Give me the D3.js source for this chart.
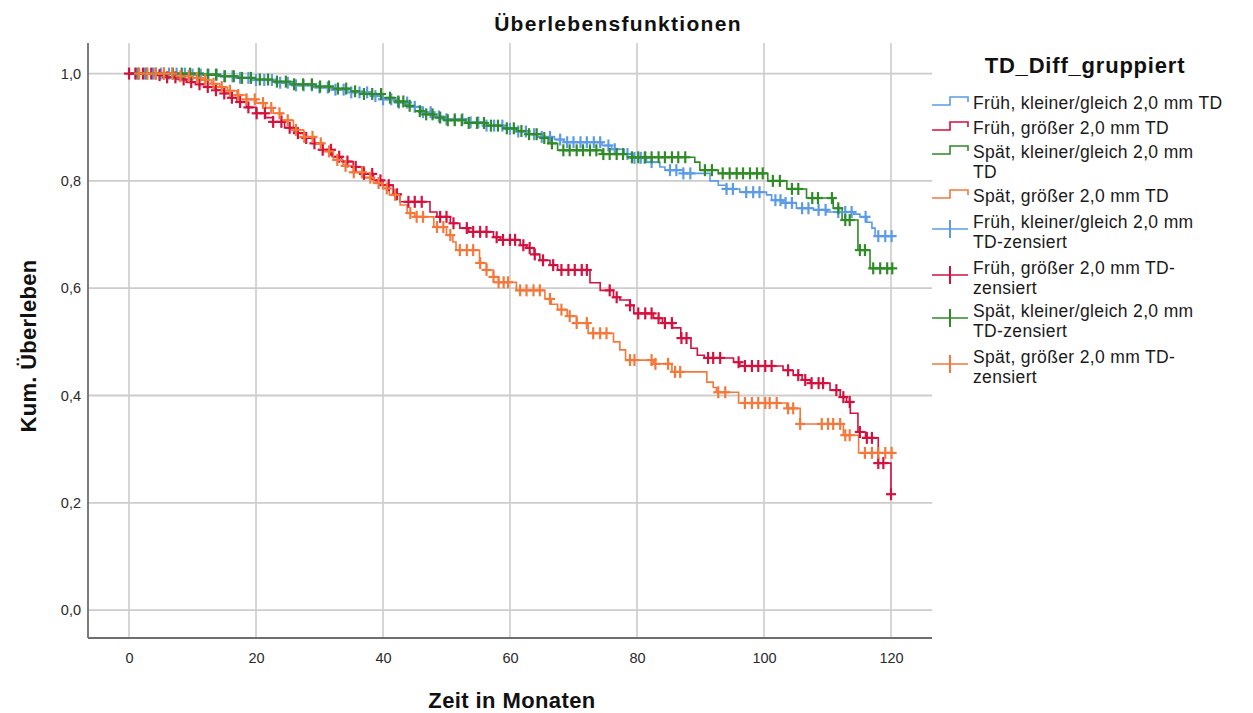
<!DOCTYPE html>
<html><head><meta charset="utf-8">
<script src="https://cdn.jsdelivr.net/npm/d3@7"></script>
<style>
html,body{margin:0;padding:0;background:#fff;}
svg{display:block;font-family:"Liberation Sans",Arial,sans-serif;}
</style></head>
<body>
<svg id="chart" width="1253" height="713"></svg>
<script>
// ---------------- DATA ----------------
const chartTitle = "Überlebensfunktionen";
const xTitle = "Zeit in Monaten";
const yTitle = "Kum. Überleben";
const legendTitle = "TD_Diff_gruppiert";
const xTicks = [0, 20, 40, 60, 80, 100, 120];
const yTicks = [0, 0.2, 0.4, 0.6, 0.8, 1.0];
const seriesNames = ["Früh, kleiner/gleich 2,0 mm TD", "Früh, größer 2,0 mm TD",
  "Spät, kleiner/gleich 2,0 mm TD", "Spät, größer 2,0 mm TD"];
const censorNames = ["Früh, kleiner/gleich 2,0 mm TD-zensiert", "Früh, größer 2,0 mm TD-zensiert",
  "Spät, kleiner/gleich 2,0 mm TD-zensiert", "Spät, größer 2,0 mm TD-zensiert"];
const colors = ["#5b9be6", "#d4103e", "#2e8b25", "#f5783a"];

// step curves: [time, survival] after each drop
const fruehKlein = [[0,1],[10,0.998],[14,0.995],[17,0.992],[20,0.988],[23,0.983],[26,0.978],[29,0.974],[32,0.970],[35,0.965],[38,0.958],[40,0.952],[42,0.946],[44,0.938],[46,0.928],[48,0.920],[50,0.915],[53,0.909],[56,0.903],[59,0.897],[61,0.892],[63,0.887],[65,0.882],[67,0.877],[68.5,0.872],[74.5,0.866],[76,0.859],[78,0.850],[79.5,0.843],[81.5,0.835],[83.6,0.826],[84.4,0.820],[87.3,0.814],[91.5,0.800],[92.8,0.792],[94.1,0.785],[96.2,0.779],[100.4,0.774],[101.2,0.764],[103,0.759],[105.1,0.749],[107.8,0.746],[109.9,0.742],[114.1,0.738],[115.1,0.733],[116.2,0.723],[117,0.712],[117.5,0.697],[120.2,0.697]];
const fruehGross = [[0,1],[4.5,0.997],[6,0.993],[7.5,0.989],[9,0.984],[10.5,0.980],[12,0.975],[13.5,0.969],[15,0.963],[16,0.955],[17,0.947],[18.5,0.937],[20,0.926],[21.5,0.918],[22.7,0.910],[24.5,0.899],[26,0.889],[27.5,0.880],[29,0.870],[30.5,0.858],[32,0.845],[33.5,0.836],[35.3,0.826],[37,0.813],[38.5,0.801],[40,0.792],[41.6,0.775],[42.7,0.761],[47.4,0.742],[48.5,0.733],[50.6,0.721],[52.1,0.712],[53.5,0.705],[57.4,0.695],[58.5,0.690],[61.6,0.680],[62.6,0.675],[63.8,0.663],[64.7,0.652],[66.3,0.643],[67.5,0.634],[72.6,0.610],[74.2,0.596],[76.3,0.583],[77.3,0.578],[78.9,0.568],[79.5,0.553],[82.6,0.544],[84,0.535],[85.6,0.526],[86.9,0.507],[88.5,0.488],[89.5,0.475],[90.6,0.470],[95.2,0.462],[96.2,0.455],[103,0.447],[104.6,0.438],[106,0.429],[107.3,0.423],[110.4,0.410],[112,0.397],[113,0.388],[113.6,0.367],[114.8,0.332],[116,0.321],[118,0.274],[120,0.216],[120.1,0.216]];
const spaetKlein = [[0,1],[11.7,0.998],[14,0.995],[17,0.992],[20,0.989],[23,0.985],[26,0.980],[29,0.976],[32,0.972],[35,0.967],[37,0.962],[40,0.955],[42,0.948],[43.5,0.940],[45,0.930],[46.5,0.924],[48,0.918],[50,0.913],[53,0.908],[56,0.903],[59,0.898],[61,0.893],[63,0.887],[65,0.880],[66,0.870],[67.5,0.857],[74.5,0.850],[78.5,0.844],[89.1,0.835],[89.9,0.820],[92.8,0.814],[100.6,0.800],[103.6,0.785],[106.7,0.768],[110.9,0.749],[112.3,0.727],[114.8,0.671],[116.7,0.637],[120.2,0.637]];
const spaetGross = [[0,1],[8,0.995],[10,0.992],[11.7,0.988],[13,0.981],[14.3,0.975],[15.5,0.968],[17,0.960],[18.5,0.952],[20,0.945],[21.5,0.936],[22.7,0.926],[24,0.913],[25.9,0.895],[27.5,0.882],[29,0.870],[30.5,0.855],[32.2,0.839],[33.7,0.828],[35.3,0.816],[37,0.806],[38.5,0.796],[40,0.786],[41,0.774],[42.7,0.755],[43.8,0.740],[45,0.733],[48,0.714],[50,0.699],[51,0.686],[51.5,0.671],[55.2,0.647],[56.3,0.634],[57.4,0.621],[58.2,0.611],[61,0.596],[65.5,0.580],[66.5,0.570],[67.5,0.560],[69,0.548],[70.5,0.535],[72.3,0.516],[76.3,0.500],[77.3,0.485],[78.2,0.466],[82.6,0.459],[85.5,0.444],[91,0.425],[92,0.415],[92.5,0.406],[96,0.386],[103.6,0.376],[105.7,0.347],[112.5,0.326],[114.9,0.293],[120.4,0.293]];

// censored observation times
const fruehKleinCens = [1.2,2.5,3.8,5.0,6.3,7.5,8.8,10.0,11.3,12.5,13.8,15.0,16.3,17.5,18.8,20.0,21.3,22.5,23.8,25.0,26.3,27.5,28.8,30.0,31.3,32.5,33.8,35.0,36.3,37.5,38.8,40.0,41.3,42.5,43.8,45.0,46.3,47.5,48.8,50.0,51.3,52.5,53.8,55.0,56.3,57.5,58.8,60.0,61.3,62.5,63.8,65.0,66.3,67.9,69.0,70.0,71.1,72.1,73.2,74.2,75.5,76.5,78.5,79.6,80.6,81.2,82.3,85.2,86.2,87.3,88.4,94.1,95.1,97.2,98.3,99.3,101.8,102.6,103.4,104.4,106.0,107.0,108.6,109.7,111.7,112.8,113.8,116.0,118.0,119.1,120.1];
const fruehGrossCens = [0,1.0,2.2,3.5,4.8,6.0,7.3,8.6,9.8,11.1,12.4,13.7,15.0,16.2,17.5,18.8,20.1,21.4,22.7,24.0,25.3,26.6,27.9,29.2,30.5,31.8,33.1,34.4,35.7,37.0,38.3,39.6,40.9,42.2,44.0,45.0,46.1,49.0,50.0,51.1,53.2,54.2,55.3,56.3,57.9,58.9,60.0,60.8,62.1,63.1,63.9,65.2,66.8,68.1,69.2,70.2,71.3,72.1,75.7,76.8,78.9,80.2,81.3,82.3,83.4,84.4,85.5,87.0,87.8,91.2,92.0,93.1,96.0,97.0,98.1,99.1,100.2,101.2,103.8,105.4,106.5,107.5,108.6,109.3,111.4,112.5,113.5,115.1,116.2,117.0,118.0,118.8,120.0];
const spaetKleinCens = [1.5,2.8,4.2,5.5,6.9,8.3,9.6,11.0,12.4,13.7,15.1,16.5,17.8,19.2,20.6,21.9,23.3,24.7,26.0,27.4,28.8,30.1,31.5,32.9,34.2,35.6,37.0,38.3,39.7,41.1,42.4,43.2,44.2,45.8,46.8,47.8,49.0,50.2,51.3,52.4,53.5,54.8,55.9,57.0,58.1,59.5,60.6,61.8,63.0,64.2,65.4,66.6,68.4,69.4,70.5,71.5,72.6,73.6,74.7,75.7,76.8,77.8,79.2,80.2,81.3,82.3,83.4,84.4,85.5,86.5,87.6,90.7,91.8,93.5,94.6,95.7,96.7,97.8,98.9,99.8,101.4,102.5,104.4,105.4,107.6,108.5,110.7,111.7,112.8,113.5,115.1,115.9,117.2,118.3,119.4,120.2];
const spaetGrossCens = [1.6,2.9,4.2,5.5,6.8,8.1,9.4,10.7,12.0,13.3,14.6,15.9,17.2,18.5,19.8,21.1,22.4,23.7,25.0,26.3,27.6,28.9,30.2,31.5,32.8,34.1,35.4,36.7,38.0,39.3,40.6,41.9,44.3,45.3,46.3,48.5,49.5,50.6,52.1,53.2,54.2,55.3,56.3,57.4,58.2,59.0,59.7,61.6,62.6,63.7,64.7,66.3,68.1,69.4,70.5,72.1,73.1,74.2,75.2,78.9,79.6,82.3,82.9,84.9,86.0,86.8,92.8,93.9,97.0,98.1,99.1,100.2,100.9,102.0,103.8,104.6,105.7,109.1,110.1,110.9,112.0,112.8,113.5,115.9,117.0,118.0,119.1,120.1];

const curves = [fruehKlein, fruehGross, spaetKlein, spaetGross];
const censors = [fruehKleinCens, fruehGrossCens, spaetKleinCens, spaetGrossCens];

// ---------------- DRAWING ----------------
const svg = d3.select("#chart");
const plot = {left: 88, right: 932, top: 43, bottom: 638};
const x = d3.scaleLinear().domain([-6.46, 126.46]).range([plot.left, plot.right]);
const y = d3.scaleLinear().domain([-0.052, 1.057]).range([plot.bottom, plot.top]);
const fmt = d => d3.format(".1f")(d).replace(".", ",");

// gridlines
const g = svg.append("g");
g.selectAll(".vg").data(xTicks).join("line")
  .attr("x1", d => x(d)).attr("x2", d => x(d))
  .attr("y1", plot.top).attr("y2", plot.bottom)
  .attr("stroke", "#cccccc").attr("stroke-width", 1.6);
g.selectAll(".hg").data(yTicks).join("line")
  .attr("x1", plot.left).attr("x2", plot.right)
  .attr("y1", d => y(d)).attr("y2", d => y(d))
  .attr("stroke", "#cccccc").attr("stroke-width", 1.8);

// axes
const xAxis = d3.axisBottom(x).tickValues(xTicks).tickSize(0).tickPadding(15).tickFormat(d3.format("d"));
const yAxis = d3.axisLeft(y).tickValues(yTicks).tickSize(0).tickPadding(7).tickFormat(fmt);
const gx = svg.append("g").attr("transform", `translate(0,${plot.bottom})`).call(xAxis);
const gy = svg.append("g").attr("transform", `translate(${plot.left},0)`).call(yAxis);
[gx, gy].forEach(a => {
  a.select(".domain").attr("stroke", "#6e6e6e").attr("stroke-width", 1.8);
  a.selectAll("text").attr("fill", "#2a2a2a").style("font-size", "14.5px")
   .style("font-family", "'Liberation Sans', Arial, sans-serif");
});
gx.select(".domain").attr("d", `M${plot.left},0H${plot.right}`);
gy.select(".domain").attr("d", `M0,${plot.top}V${plot.bottom}`);

// step lines
const line = d3.line().x(d => x(d[0])).y(d => y(d[1])).curve(d3.curveStepAfter);
curves.forEach((c, i) => {
  svg.append("path").attr("d", line(c)).attr("fill", "none")
    .attr("stroke", colors[i]).attr("stroke-width", 1.6);
});

// censor marks
function valueAt(curve, t) {
  let v = curve[0][1];
  for (const p of curve) { if (p[0] <= t) v = p[1]; else break; }
  return v;
}
censors.forEach((cs, i) => {
  const gg = svg.append("g").attr("stroke", colors[i]).attr("stroke-width", 2.2);
  cs.forEach(t => {
    const cx = x(t), cy = y(valueAt(curves[i], t));
    gg.append("line").attr("x1", cx - 5).attr("x2", cx + 5).attr("y1", cy).attr("y2", cy);
    gg.append("line").attr("x1", cx).attr("x2", cx).attr("y1", cy - 6).attr("y2", cy + 6);
  });
});

// titles
svg.append("text").attr("x", 618).attr("y", 31).attr("text-anchor", "middle")
  .style("font-size", "21px").style("font-weight", "bold").style("letter-spacing", "1.3px")
  .attr("fill", "#111").text(chartTitle);
svg.append("text").attr("x", 512).attr("y", 708).attr("text-anchor", "middle")
  .style("font-size", "22px").style("font-weight", "bold").style("letter-spacing", "0.4px")
  .attr("fill", "#111").text(xTitle);
svg.append("text").attr("transform", "translate(36,346) rotate(-90)").attr("text-anchor", "middle")
  .style("font-size", "22px").style("font-weight", "bold").style("letter-spacing", "0.3px")
  .attr("fill", "#111").text(yTitle);

// legend
const lg = svg.append("g");
lg.append("text").attr("x", 1085).attr("y", 73).attr("text-anchor", "middle")
  .style("font-size", "22px").style("font-weight", "bold").style("letter-spacing", "0.8px")
  .attr("fill", "#111").text(legendTitle);
const legendRows = [
  {kind: "step", i: 0, lines: ["Früh, kleiner/gleich 2,0 mm TD"], y0: 103},
  {kind: "step", i: 1, lines: ["Früh, größer 2,0 mm TD"], y0: 128},
  {kind: "step", i: 2, lines: ["Spät, kleiner/gleich 2,0 mm", "TD"], y0: 152},
  {kind: "step", i: 3, lines: ["Spät, größer 2,0 mm TD"], y0: 196},
  {kind: "cross", i: 0, lines: ["Früh, kleiner/gleich 2,0 mm", "TD-zensiert"], y0: 222},
  {kind: "cross", i: 1, lines: ["Früh, größer 2,0 mm TD-", "zensiert"], y0: 268},
  {kind: "cross", i: 2, lines: ["Spät, kleiner/gleich 2,0 mm", "TD-zensiert"], y0: 311},
  {kind: "cross", i: 3, lines: ["Spät, größer 2,0 mm TD-", "zensiert"], y0: 357}
];
legendRows.forEach(r => {
  const c = colors[r.i];
  if (r.kind === "step") {
    lg.append("path").attr("d", `M932,${r.y0 + 2}H950V${r.y0 - 6}H968V${r.y0 - 1}`)
      .attr("fill", "none").attr("stroke", c).attr("stroke-width", 1.6);
  } else {
    const cy = r.y0 + 7;
    lg.append("line").attr("x1", 932).attr("x2", 968).attr("y1", cy).attr("y2", cy)
      .attr("stroke", c).attr("stroke-width", 1.6);
    lg.append("line").attr("x1", 950).attr("x2", 950).attr("y1", cy - 9).attr("y2", cy + 9)
      .attr("stroke", c).attr("stroke-width", 2);
  }
  r.lines.forEach((t, k) => {
    lg.append("text").attr("x", 973).attr("y", r.y0 + 6 + k * 20)
      .style("font-size", "17.5px").style("letter-spacing", "0.35px")
      .attr("fill", "#1a1a1a").text(t);
  });
});
</script>
</body></html>
